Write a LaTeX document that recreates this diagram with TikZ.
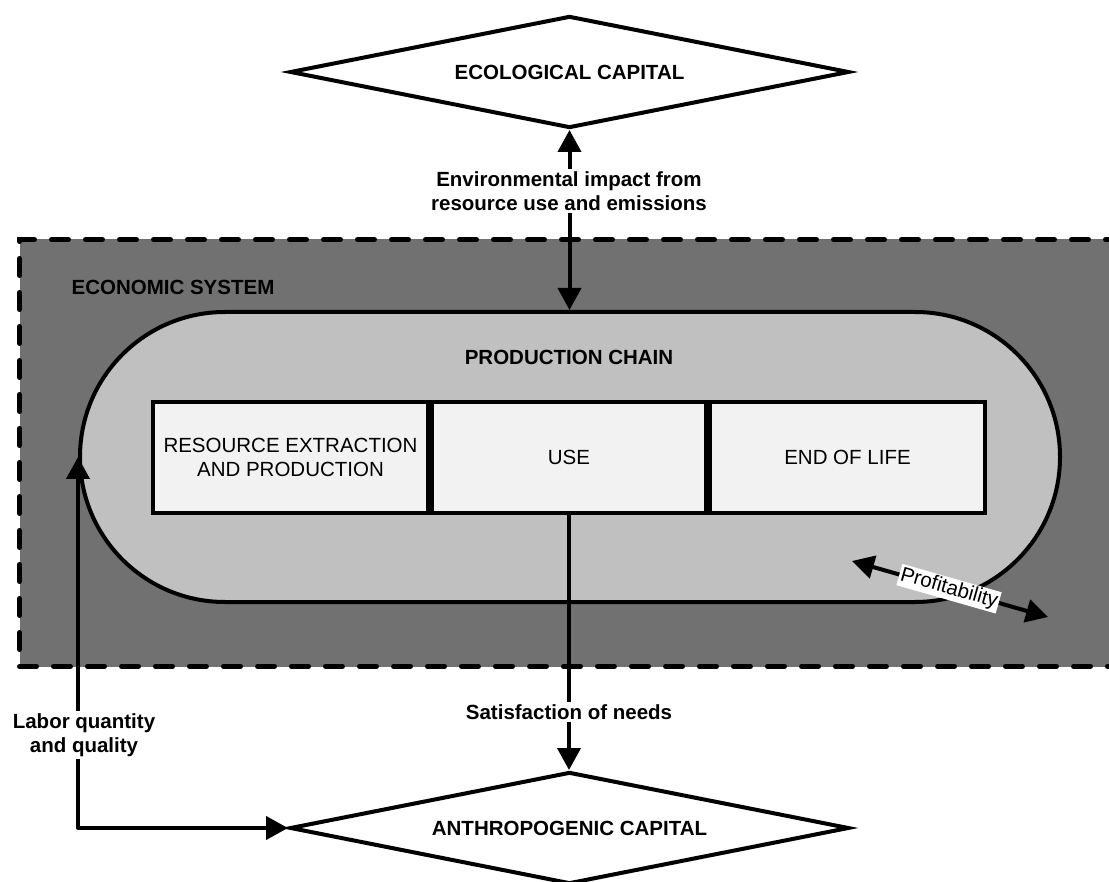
\documentclass[tikz,border=0pt]{standalone}
\usepackage{fontspec}
\setmainfont{Liberation Sans}
\usetikzlibrary{arrows.meta,shapes.geometric}
\definecolor{econgray}{HTML}{717171}
\definecolor{chaingray}{HTML}{C0C0C0}
\definecolor{stagefill}{HTML}{F2F2F2}
\begin{document}
\begin{tikzpicture}[x=1pt,y=-1pt,
  font=\fontsize{20.5}{24}\selectfont,
  bigtip/.tip={Triangle[width=23pt,length=22pt]},
  flow/.style={line width=4pt, line join=round, bigtip-bigtip},
  oneway/.style={line width=4pt, line join=round, -bigtip},
  capital/.style={diamond, draw, line width=4pt, fill=white, aspect=5,
    minimum width=559pt, minimum height=112pt, inner sep=0pt,
    font=\fontsize{20.5}{24}\selectfont\bfseries},
  econbox/.style={draw, fill=econgray, line width=5pt, line cap=round,
    dash pattern=on 17pt off 17pt, minimum width=1120pt, minimum height=427pt,
    inner sep=0pt, anchor=north west},
  chainshape/.style={draw, fill=chaingray, line width=4pt,
    rounded corners=144.9pt, minimum width=980pt, minimum height=290pt,
    inner sep=0pt},
  stagebox/.style={draw, fill=stagefill, line width=4.5pt, minimum width=275pt,
    minimum height=111pt, inner sep=0pt, align=center},
  heading/.style={font=\fontsize{20.5}{24}\selectfont\bfseries},
  flowlabel/.style={fill=white, align=center, inner sep=2pt,
    font=\fontsize{20.5}{24}\selectfont\bfseries}]

\useasboundingbox (0,0) rectangle (1109,882);

% economic system and production chain
\node[econbox] (economy) at (17,237) {};
\node[heading] (econtitle) at (173,287) {ECONOMIC SYSTEM};
\node[chainshape] (chain) at (570,457) {};
\node[heading] (chaintitle) at (569,357) {PRODUCTION CHAIN};

% life-cycle stages
\node[stagebox] (extract) at (290.5,457.5) {RESOURCE EXTRACTION\\AND PRODUCTION};
\node[stagebox] (use) at (569,457.5) {USE};
\node[stagebox] (eol) at (847.5,457.5) {END OF LIFE};

% capital stocks
\node[capital] (eco) at (569.5,72) {ECOLOGICAL CAPITAL};
\node[capital] (anthro) at (569.5,828) {ANTHROPOGENIC CAPITAL};

% flows between capitals and the economy
\draw[flow] (eco.south) -- (eco.south |- chain.north);
\draw[oneway] (use.south) -- (use.south |- anthro.north);
\draw[flow] (chain.west) -- (chain.west |- anthro.west) -- (anthro.west);

\node[flowlabel] (envlabel) at (569,191)
  {Environmental impact from\\resource use and emissions};
\node[flowlabel] (needlabel) at (569,712) {Satisfaction of needs};
\node[flowlabel] (laborlabel) at (84,735) {Labor quantity\\and quality};

% profitability
\coordinate (profA) at (852,561);
\coordinate (profB) at (1048,617);
\draw[flow] (profA) -- (profB)
  node[pos=0.495, sloped, fill=white, inner sep=1.5pt,
       font=\fontsize{20.5}{24}\selectfont] (proflabel) {Profitability};

\end{tikzpicture}
\end{document}
